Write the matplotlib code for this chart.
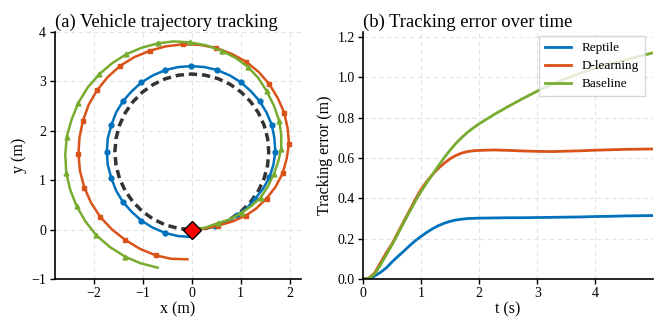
import matplotlib
matplotlib.use("Agg")
import matplotlib.pyplot as plt

plt.rcParams['font.family'] = ['Liberation Serif', 'DejaVu Serif']
plt.rcParams['mathtext.fontset'] = 'stix'

# ---- (a) trajectories ----
ref_x = [0.0, 0.273, 0.539, 0.788, 1.012, 1.206, 1.364, 1.48, 1.551, 1.575, 1.551, 1.48, 1.364,
         1.206, 1.012, 0.788, 0.539, 0.273, 0.0, -0.273, -0.539, -0.788, -1.012, -1.206, -1.364,
         -1.48, -1.551, -1.575, -1.551, -1.48, -1.364, -1.206, -1.012, -0.788, -0.539, -0.273, 0.0]
ref_y = [0.0, 0.024, 0.095, 0.211, 0.369, 0.563, 0.788, 1.036, 1.302, 1.575, 1.848, 2.114, 2.363,
         2.587, 2.781, 2.939, 3.055, 3.126, 3.15, 3.126, 3.055, 2.939, 2.781, 2.587, 2.363,
         2.114, 1.848, 1.575, 1.302, 1.036, 0.788, 0.563, 0.369, 0.211, 0.095, 0.024, 0.0]

reptile_x = [0.0, 0.24, 0.48, 0.71, 0.93, 1.13, 1.30, 1.46, 1.59, 1.67, 1.71, 1.69, 1.64, 1.53,
             1.39, 1.21, 1.01, 0.78, 0.52, 0.26, -0.01, -0.28, -0.54, -0.80, -1.03, -1.23, -1.41,
             -1.55, -1.65, -1.72, -1.74, -1.72, -1.65, -1.55, -1.41, -1.23, -1.03, -0.80, -0.54,
             -0.28, -0.01]
reptile_y = [0.0, 0.02, 0.07, 0.16, 0.29, 0.44, 0.63, 0.83, 1.06, 1.31, 1.58, 1.85, 2.11, 2.37,
             2.60, 2.80, 2.98, 3.12, 3.23, 3.29, 3.31, 3.29, 3.23, 3.12, 2.98, 2.80, 2.60,
             2.37, 2.11, 1.85, 1.58, 1.31, 1.05, 0.79, 0.56, 0.36, 0.18, 0.04, -0.07,
             -0.13, -0.15]

dlearn_x = [0.0, 0.27, 0.53, 0.82, 1.10, 1.32, 1.53, 1.71, 1.86, 1.94, 1.99, 1.96, 1.89, 1.76,
            1.59, 1.37, 1.11, 0.81, 0.49, 0.16, -0.19, -0.53, -0.86, -1.18, -1.46, -1.72, -1.94,
            -2.11, -2.23, -2.30, -2.32, -2.29, -2.20, -2.06, -1.87, -1.63, -1.36, -1.06, -0.74,
            -0.42, -0.09]
dlearn_y = [0.0, 0.02, 0.08, 0.16, 0.28, 0.43, 0.63, 0.86, 1.14, 1.43, 1.74, 2.06, 2.37, 2.66,
            2.94, 3.19, 3.40, 3.56, 3.68, 3.74, 3.75, 3.71, 3.62, 3.49, 3.32, 3.09, 2.82,
            2.53, 2.20, 1.86, 1.53, 1.19, 0.85, 0.54, 0.25, 0.00, -0.21, -0.39, -0.52,
            -0.59, -0.60]

base_x = [0.0, 0.27, 0.53, 0.78, 1.02, 1.22, 1.41, 1.56, 1.68, 1.77, 1.83, 1.83, 1.79, 1.68,
          1.53, 1.36, 1.14, 0.89, 0.61, 0.29, -0.04, -0.37, -0.70, -1.03, -1.34, -1.63, -1.89,
          -2.13, -2.32, -2.46, -2.56, -2.59, -2.57, -2.49, -2.36, -2.18, -1.96, -1.68, -1.36,
          -1.05, -0.70]
base_y = [0.0, 0.04, 0.13, 0.21, 0.34, 0.48, 0.65, 0.88, 1.13, 1.38, 1.64, 1.92, 2.20, 2.51,
          2.81, 3.07, 3.30, 3.48, 3.62, 3.73, 3.79, 3.81, 3.77, 3.68, 3.55, 3.37, 3.15,
          2.88, 2.57, 2.23, 1.88, 1.52, 1.15, 0.81, 0.48, 0.17, -0.11, -0.35, -0.55,
          -0.68, -0.77]

# ---- (b) tracking error ----
t = [0.0, 0.1, 0.2, 0.3, 0.4, 0.5, 0.6, 0.7, 0.8, 0.9, 1.0, 1.1, 1.2, 1.3, 1.4, 1.5, 1.6, 1.7,
     1.8, 1.9, 2.0, 2.25, 2.5, 2.75, 3.0, 3.25, 3.5, 3.75, 4.0, 4.25, 4.5, 4.75, 4.99]
err_reptile = [0.0, 0.003, 0.015, 0.033, 0.055, 0.085, 0.112, 0.138, 0.165, 0.19, 0.212, 0.232,
               0.25, 0.265, 0.277, 0.286, 0.293, 0.297, 0.3, 0.301, 0.302, 0.303, 0.304, 0.304,
               0.305, 0.306, 0.307, 0.308, 0.31, 0.311, 0.313, 0.314, 0.315]
err_dlearn = [0.0, 0.005, 0.03, 0.08, 0.13, 0.175, 0.23, 0.285, 0.34, 0.395, 0.445, 0.485, 0.52,
              0.55, 0.575, 0.597, 0.613, 0.625, 0.632, 0.636, 0.638, 0.64, 0.638, 0.635, 0.633,
              0.632, 0.634, 0.636, 0.639, 0.641, 0.643, 0.644, 0.645]
err_base = [0.0, 0.004, 0.025, 0.07, 0.12, 0.17, 0.224, 0.279, 0.333, 0.386, 0.435, 0.479, 0.52,
            0.563, 0.603, 0.64, 0.673, 0.702, 0.728, 0.75, 0.77, 0.815, 0.856, 0.895, 0.932,
            0.965, 0.995, 1.022, 1.046, 1.066, 1.085, 1.104, 1.122]

labels = ['Reptile', 'D-learning', 'Baseline']
colors = ['#0072BD', '#D95319', '#77AC30']
markers = ['o', 's', '^']

fig = plt.figure(figsize=(6.65, 3.2), dpi=100)
ax1 = fig.add_axes([0.0820, 0.128, 0.371, 0.772])
ax2 = fig.add_axes([0.5459, 0.128, 0.4361, 0.772])

for ax in (ax1, ax2):
    ax.grid(True, color='#e3e3e3', linestyle=(0, (4, 3)), linewidth=0.8)
    ax.set_axisbelow(True)
    ax.spines['top'].set_visible(False)
    ax.spines['right'].set_visible(False)
    ax.spines['left'].set_linewidth(1.2)
    ax.spines['bottom'].set_linewidth(1.2)
    ax.tick_params(direction='out', length=3.5, width=1.0, labelsize=10, pad=2.5)

# left panel
ax1.plot(ref_x, ref_y, color='#333333', lw=2.5, linestyle=(0, (2.4, 1.4)), zorder=2)
marks = list(range(0, 39, 2))
for xs, ys, c, m in zip([reptile_x, dlearn_x, base_x], [reptile_y, dlearn_y, base_y], colors, markers):
    ax1.plot(xs, ys, color=c, lw=1.8, marker=m, markersize=3.5, markevery=marks, zorder=3)
ax1.plot([0], [0], marker='D', color='red', markeredgecolor='black', markersize=9.5,
         markeredgewidth=1.0, zorder=5)
ax1.set_xlim(-2.81, 2.24)
ax1.set_ylim(-1.0, 4.0)
ax1.set_xticks([-2, -1, 0, 1, 2])
ax1.set_yticks([-1, 0, 1, 2, 3, 4])
ax1.set_xlabel('x (m)', fontsize=11.5, labelpad=1)
ax1.set_ylabel('y (m)', fontsize=11.5, labelpad=3)
ax1.set_title('(a) Vehicle trajectory tracking', fontsize=13.4, loc='left', pad=4)

# right panel
for e, lab, c in zip([err_reptile, err_dlearn, err_base], labels, colors):
    ax2.plot(t, e, color=c, lw=2.0, label=lab)
ax2.set_xlim(0, 4.99)
ax2.set_ylim(0, 1.225)
ax2.set_xticks([0, 1, 2, 3, 4])
ax2.set_yticks([0.0, 0.2, 0.4, 0.6, 0.8, 1.0, 1.2])
ax2.set_xlabel('t (s)', fontsize=11.5, labelpad=1)
ax2.set_ylabel('Tracking error (m)', fontsize=11.5, labelpad=3)
ax2.set_title('(b) Tracking error over time', fontsize=13.4, loc='left', pad=4)
ax2.legend(loc='upper right', bbox_to_anchor=(0.985, 1.0), fontsize=9.5, framealpha=0.8,
           edgecolor='#cccccc', fancybox=False, borderaxespad=0.3, borderpad=0.45,
           handlelength=2.0, handletextpad=0.8, labelspacing=0.45)

fig.savefig('out.png', dpi=100)
